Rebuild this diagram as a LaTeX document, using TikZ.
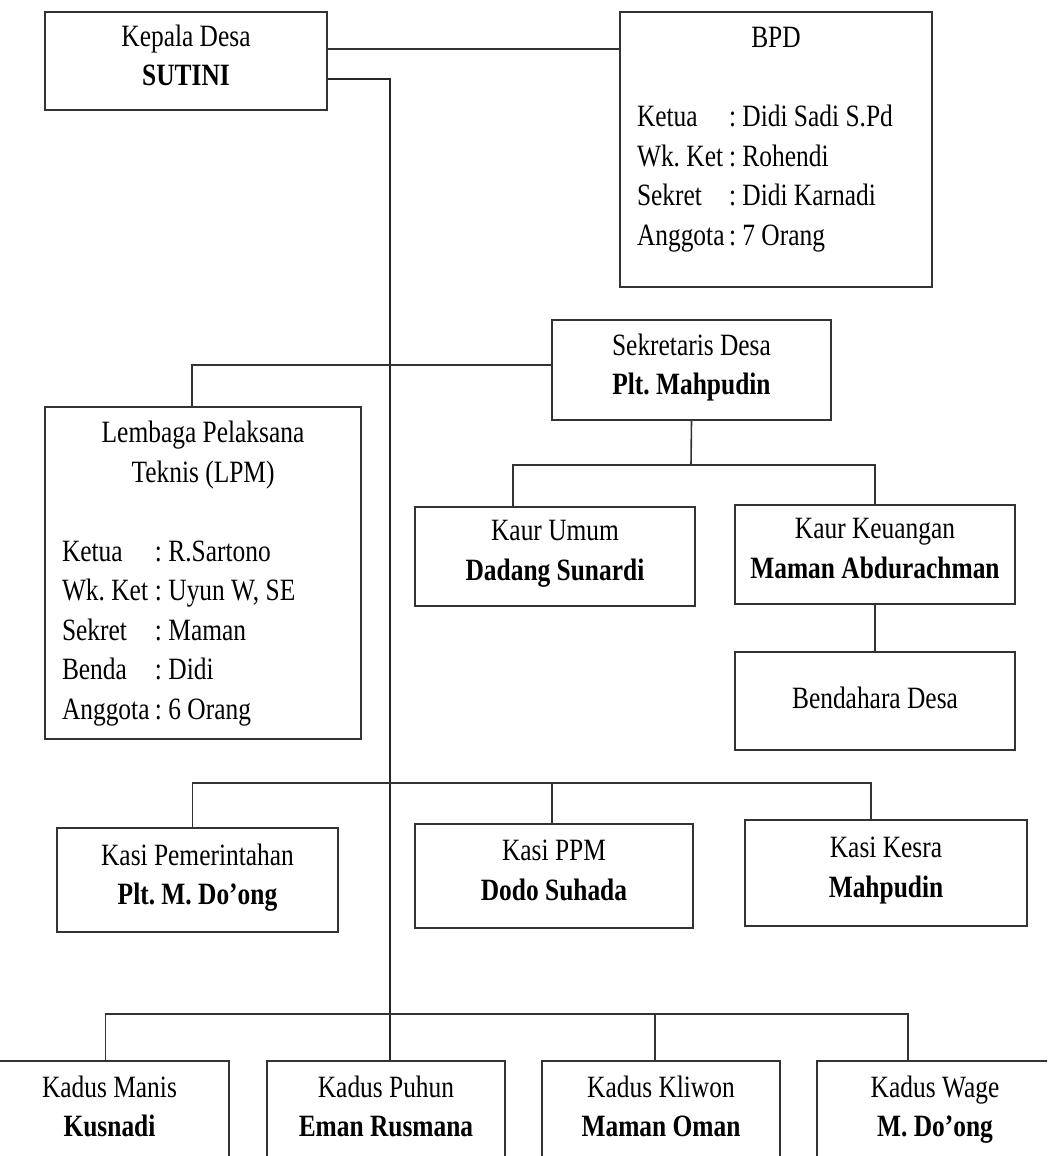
\documentclass[tikz,border=0pt]{standalone}
\usepackage{fontspec}
\setmainfont{Liberation Serif}[FakeStretch=0.82]
\frenchspacing
\begin{document}
\begin{tikzpicture}[x=1pt,y=-1pt,
        box/.style={shape=rectangle,draw=black!80,line width=1.8pt,inner sep=0pt,
            font=\fontsize{31}{39.5}\selectfont},
        namebox/.style={box,align=center,execute at end node={\strut}},
        conn/.style={draw=black!80,line width=1.6pt},
        trunk/.style={draw=black!85,line width=1.2pt}]
        \useasboundingbox (0,0) rectangle (1047,1156);
        \clip (0,0) rectangle (1047,1156);
        \fill[white] (0,0) rectangle (1047,1156);

        \node[namebox,minimum width=282pt,minimum height=98pt] (kades) at (186,61) {Kepala Desa\\\textbf{SUTINI}};
        \node[box,minimum width=312pt,minimum height=275pt] (bpd) at (776,149.5) {%
            \begin{tabular}{@{}p{92pt}@{}p{186pt}@{}}
            \multicolumn{2}{c}{BPD}\\
            \\
            Ketua & : Didi Sadi S.Pd\\
            Wk. Ket & : Rohendi\\
            Sekret & : Didi Karnadi\\
            Anggota & : 7 Orang\\[22pt]
            \end{tabular}};
        \node[namebox,minimum width=279pt,minimum height=100pt] (sekdes) at (691.5,370) {Sekretaris Desa\\\textbf{Plt. Mahpudin}};
        \node[box,minimum width=316pt,minimum height=332pt] (lpm) at (203,573) {%
            \begin{tabular}{@{}p{93pt}@{}p{189pt}@{}}
            \multicolumn{2}{c}{Lembaga Pelaksana}\\
            \multicolumn{2}{c}{Teknis (LPM)}\\
            \\
            Ketua & : R.Sartono\\
            Wk. Ket & : Uyun W, SE\\
            Sekret & : Maman\\
            Benda & : Didi\\
            Anggota & : 6 Orang
            \end{tabular}};
        \node[namebox,minimum width=280pt,minimum height=99pt] (kaurumum) at (555,556.5) {Kaur Umum\\\textbf{Dadang Sunardi}};
        \node[namebox,minimum width=280pt,minimum height=99pt] (kaurkeu) at (875,554.5) {Kaur Keuangan\\\textbf{Maman Abdurachman}};
        \node[namebox,minimum width=280pt,minimum height=98pt] (bendahara) at (875,701) {Bendahara Desa};
        \node[namebox,minimum width=281pt,minimum height=104pt] (kasipem) at (197.5,880) {Kasi Pemerintahan\\\textbf{Plt. M. Do’ong}};
        \node[namebox,minimum width=278pt,minimum height=104pt] (kasippm) at (554,876) {Kasi PPM\\\textbf{Dodo Suhada}};
        \node[namebox,minimum width=282pt,minimum height=106pt] (kasikesra) at (886,873) {Kasi Kesra\\\textbf{Mahpudin}};
        \node[namebox,minimum width=239pt,minimum height=102pt] (kadmanis) at (109.5,1112) {Kadus Manis\\\textbf{Kusnadi}};
        \node[namebox,minimum width=238pt,minimum height=102pt] (kadpuhun) at (386,1112) {Kadus Puhun\\\textbf{Eman Rusmana}};
        \node[namebox,minimum width=238pt,minimum height=102pt] (kadkliwon) at (661,1112) {Kadus Kliwon\\\textbf{Maman Oman}};
        \node[namebox,minimum width=236pt,minimum height=102pt] (kadwage) at (935,1112) {Kadus Wage\\\textbf{M. Do’ong}};

        \coordinate (kaurbus) at (691,465);
        \coordinate (kasibus) at (390,783);
        \coordinate (kadusbus) at (390,1014);

        % kepala desa
        \draw[conn] ([yshift=12pt]kades.east) -- ([yshift=12pt]kades.east -| bpd.west);
        \draw[trunk] ([yshift=-18pt]kades.east) -| ([xshift=4pt]kadpuhun.north);

        % sekretariat
        \draw[conn] ([yshift=5pt]sekdes.west) -| ([xshift=-11pt]lpm.north);
        \draw[conn] (sekdes.south) -- (kaurbus);
        \draw[conn] ([xshift=-42pt]kaurumum.north) |- (kaurbus) -| (kaurkeu.north);
        \draw[conn] (kaurkeu.south) -- (bendahara.north);

        % kasi
        \draw[conn] ([xshift=-5pt]kasipem.north) |- (kasibus) -| ([xshift=-15pt]kasikesra.north);
        \draw[conn] ([xshift=-2pt]kasippm.north) |- (kasibus);

        % kadus
        \draw[conn] ([xshift=-4pt]kadmanis.north) |- (kadusbus) -| ([xshift=-27pt]kadwage.north);
        \draw[conn] ([xshift=-6pt]kadkliwon.north) |- (kadusbus);
\end{tikzpicture}
\end{document}
